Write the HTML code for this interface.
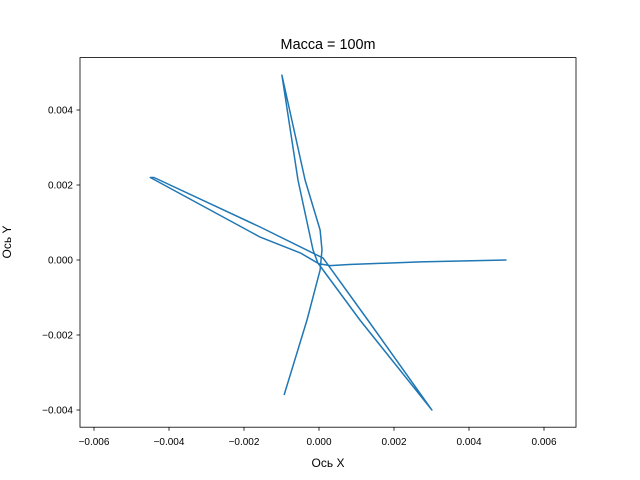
<!DOCTYPE html>
<html><head><meta charset="utf-8"><style>body{margin:0;background:#fff}svg{display:block;font-family:"Liberation Sans","DejaVu Sans",sans-serif}</style></head>
<body>
<svg id="chart" width="640" height="480">
<rect x="0" y="0" width="640" height="480" fill="#fff"/>
<g id="ticks"></g>
<path id="line" fill="none" stroke="#1f77b4" stroke-width="1.5" stroke-linejoin="round"/>
<rect x="80" y="57.6" width="496" height="369.6" fill="none" stroke="#000" stroke-width="0.8"/>
<text x="328" y="49" font-size="14.4" text-anchor="middle">Масса = 100m</text>
<text x="328" y="467" font-size="12" text-anchor="middle">Ось X</text>
<text x="11" y="242" font-size="12" text-anchor="middle" transform="rotate(-90 11 242)">Ось Y</text>
</svg>
<script>
const xs=[0.005,0.0027,0.0008,0.0003,0.0,-0.0005,-0.00157,-0.0045,-0.0044,-0.00157,0.00011,0.0013,0.00301,0.00109,-0.00003,-0.00016,-0.00056,-0.00099,-0.00037,0.00003,0.00008,0.00003,-0.00032,-0.00093];
const ys=[0,-0.00005,-0.00012,-0.00015,-0.0001,0.00019,0.00061,0.0022,0.0022,0.00088,0.00005,-0.0016,-0.004,-0.0016,-0.00008,0.00027,0.00213,0.00493,0.00213,0.0008,0.00027,-0.00027,-0.0016,-0.0036];
const xTicks=[-0.006,-0.004,-0.002,0,0.002,0.004,0.006];
const yTicks=[-0.004,-0.002,0,0.002,0.004];
const X=v=>319+v*37500, Y=v=>260-v*37500;
const ns="http://www.w3.org/2000/svg";
document.getElementById('line').setAttribute('d',xs.map((v,i)=>(i?'L':'M')+X(v).toFixed(1)+','+Y(ys[i]).toFixed(1)).join(''));
const g=document.getElementById('ticks');
const fmt=v=>(v<0?'\u2212':'')+Math.abs(v).toFixed(3);
xTicks.forEach(v=>{
 const l=document.createElementNS(ns,'line');
 l.setAttribute('x1',X(v));l.setAttribute('x2',X(v));l.setAttribute('y1',427.2);l.setAttribute('y2',430.7);l.setAttribute('stroke','#000');l.setAttribute('stroke-width','0.8');
 
 
 g.appendChild(l);
 const t=document.createElementNS(ns,'text');
 t.setAttribute('x',X(v));t.setAttribute('y',445);t.setAttribute('font-size','10');t.setAttribute('text-anchor','middle');t.textContent=fmt(v);
 
 
 g.appendChild(t);
});
yTicks.forEach(v=>{
 const l=document.createElementNS(ns,'line');
 l.setAttribute('x1',76.5);l.setAttribute('x2',80);l.setAttribute('y1',Y(v));l.setAttribute('y2',Y(v));l.setAttribute('stroke','#000');l.setAttribute('stroke-width','0.8');
 
 
 g.appendChild(l);
 const t=document.createElementNS(ns,'text');
 t.setAttribute('x',73);t.setAttribute('y',Y(v)+3.6);t.setAttribute('font-size','10');t.setAttribute('text-anchor','end');t.textContent=fmt(v);
 
 
 g.appendChild(t);
});
</script>
</body></html>
